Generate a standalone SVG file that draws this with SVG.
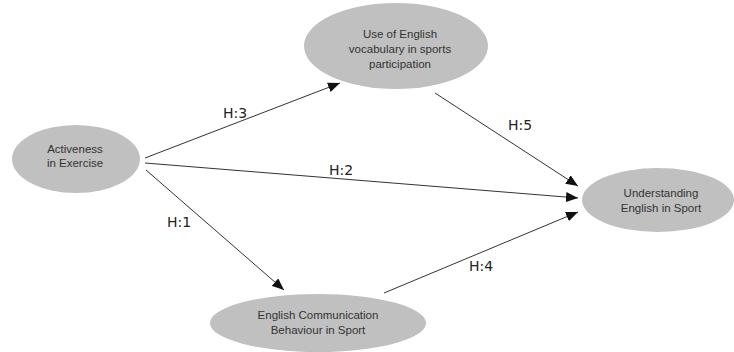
<svg xmlns="http://www.w3.org/2000/svg" width="734" height="352" viewBox="0 0 734 352">
<defs>
<marker id="arr" viewBox="0 0 12 10" refX="12" refY="5" markerWidth="12" markerHeight="10" markerUnits="userSpaceOnUse" orient="auto">
<path d="M0,0 L12,5 L0,10 Z" fill="#111"/>
</marker>
</defs>
<style>
.node ellipse{fill:#c0c0c0;stroke:none}
.node text{font-family:"Liberation Sans",Arial,sans-serif;font-size:11.5px;fill:#333;text-anchor:middle}
.edge{stroke:#333;stroke-width:1;fill:none;marker-end:url(#arr)}
.lbl{font-family:"DejaVu Sans",sans-serif;font-size:14px;fill:#222}
</style>
<rect width="734" height="352" fill="#fff"/>
<g id="edges">
<line class="edge" x1="145" y1="158" x2="340" y2="83"/>
<line class="edge" x1="145" y1="163" x2="578" y2="198"/>
<line class="edge" x1="435" y1="93" x2="578" y2="186"/>
<line class="edge" x1="146" y1="170" x2="284" y2="290"/>
<line class="edge" x1="384" y1="293" x2="578" y2="212"/>
<text class="lbl" x="223" y="118">H:3</text>
<text class="lbl" x="329" y="175">H:2</text>
<text class="lbl" x="508" y="130">H:5</text>
<text class="lbl" x="167" y="227">H:1</text>
<text class="lbl" x="469" y="271">H:4</text>
</g>
<g id="activeness" class="node">
<ellipse cx="76" cy="159" rx="64" ry="34"/>
<text x="75" y="153">Activeness</text>
<text x="75" y="167">in Exercise</text>
</g>
<g id="vocabulary" class="node">
<ellipse cx="396" cy="46" rx="92" ry="43"/>
<text x="400" y="38">Use of English</text>
<text x="400" y="53">vocabulary in sports</text>
<text x="400" y="68">participation</text>
</g>
<g id="understanding" class="node">
<ellipse cx="658" cy="200" rx="76" ry="32"/>
<text x="661" y="197">Understanding</text>
<text x="661" y="212">English in Sport</text>
</g>
<g id="communication" class="node">
<ellipse cx="318" cy="323" rx="108" ry="29"/>
<text x="318" y="319">English Communication</text>
<text x="318" y="334">Behaviour in Sport</text>
</g>
</svg>
